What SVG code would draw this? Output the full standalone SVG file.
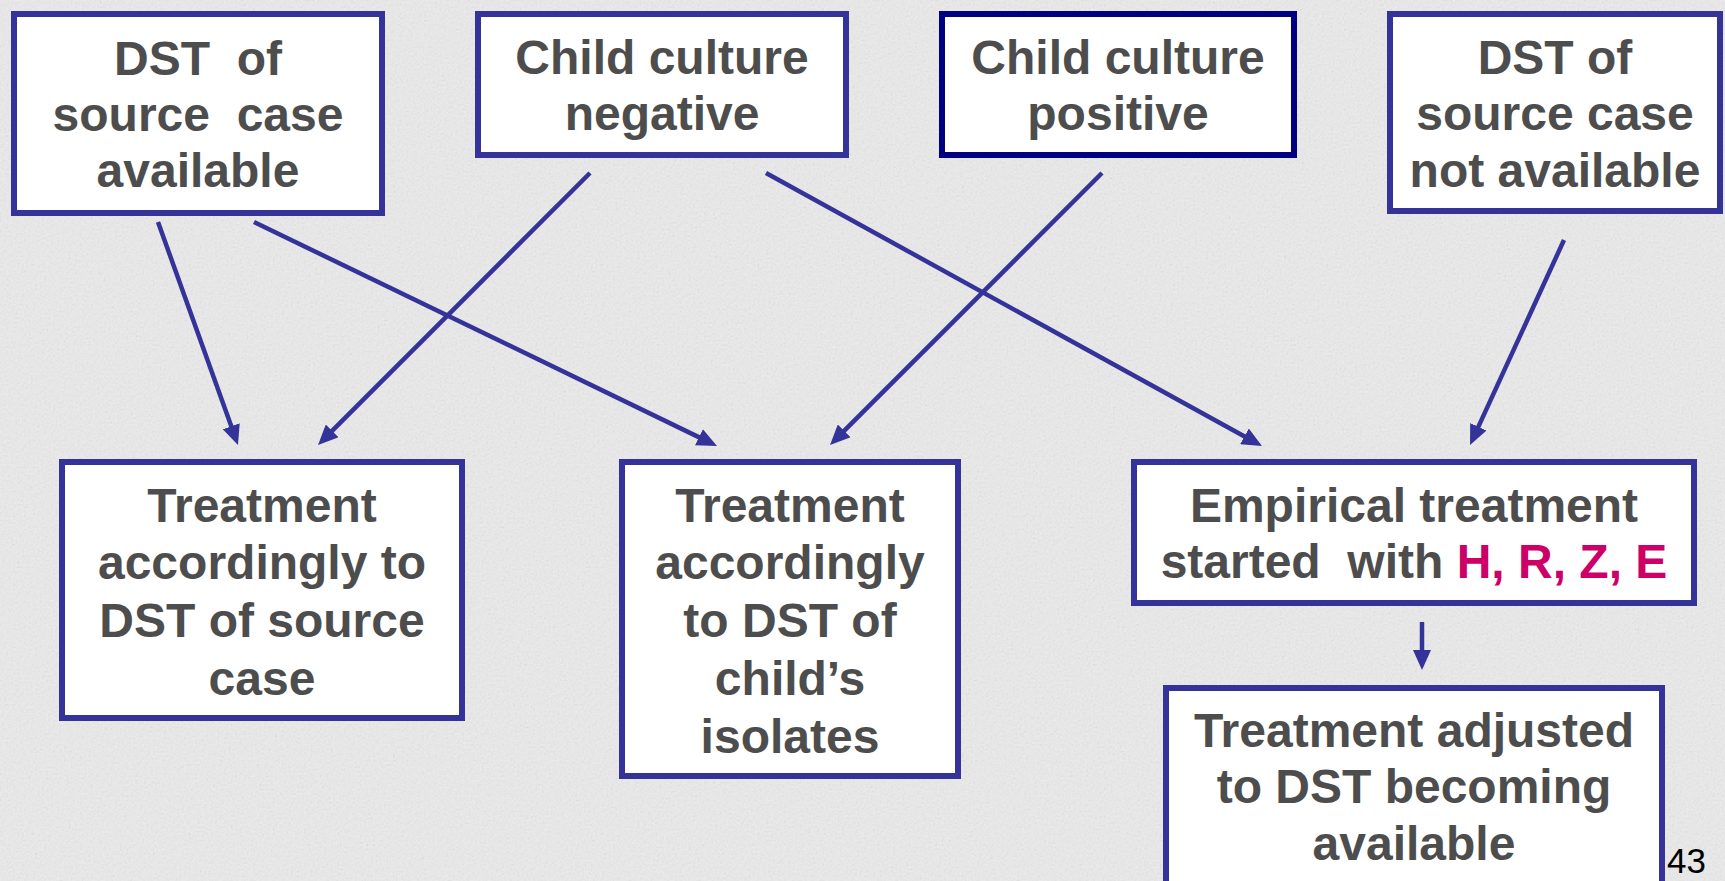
<svg xmlns="http://www.w3.org/2000/svg" width="1725" height="881" viewBox="0 0 1725 881">
  <style>
    .box { fill: #ffffff; stroke: #333399; stroke-width: 6; }
    .box.dark { stroke: #000080; }
    .lbl { font-family: "Liberation Sans", Arial, sans-serif; font-weight: bold; font-size: 48px; fill: #4d4d4d; text-anchor: middle; }
    .hl { fill: #cc0066; }
    .conn { stroke: #333399; stroke-width: 4.5; fill: none; marker-end: url(#arrow); }
    .page { font-family: "Liberation Sans", Arial, sans-serif; font-size: 35px; fill: #000000; }
  </style>
  <defs>
    <marker id="arrow" markerUnits="userSpaceOnUse" markerWidth="20" markerHeight="18" refX="10" refY="9" orient="auto">
      <path d="M0,0 L20,9 L0,18 Z" fill="#333399"/>
    </marker>
    <filter id="grain" x="0" y="0" width="100%" height="100%">
      <feTurbulence type="fractalNoise" baseFrequency="0.45" numOctaves="2" seed="7"/>
      <feColorMatrix type="saturate" values="0"/>
    </filter>
  </defs>

  <g id="background">
    <rect x="0" y="0" width="1725" height="881" fill="#ebebeb"/>
    <rect x="0" y="0" width="1725" height="881" filter="url(#grain)" opacity="0.2"/>
  </g>

  <g id="connectors">
    <line class="conn" x1="158" y1="222" x2="234.6" y2="435.6"/>
    <line class="conn" x1="254" y1="222" x2="708" y2="441.6"/>
    <line class="conn" x1="590" y1="173" x2="325.1" y2="437.9"/>
    <line class="conn" x1="766" y1="173" x2="1253.2" y2="441.2"/>
    <line class="conn" x1="1102" y1="173" x2="837.1" y2="437.9"/>
    <line class="conn" x1="1564" y1="240" x2="1474.2" y2="435.9"/>
    <line class="conn" x1="1422" y1="622" x2="1422" y2="660"/>
  </g>

  <g id="dst-available">
    <rect class="box" x="14" y="14" width="368" height="199"/>
    <text class="lbl" xml:space="preserve"><tspan x="198" y="75">DST  of</tspan><tspan x="198" y="131">source  case</tspan><tspan x="198" y="187">available</tspan></text>
  </g>

  <g id="culture-negative">
    <rect class="box" x="478" y="14" width="368" height="141"/>
    <text class="lbl"><tspan x="662" y="74">Child culture</tspan><tspan x="662" y="130">negative</tspan></text>
  </g>

  <g id="culture-positive">
    <rect class="box dark" x="942" y="14" width="352" height="141"/>
    <text class="lbl"><tspan x="1118" y="74">Child culture</tspan><tspan x="1118" y="130">positive</tspan></text>
  </g>

  <g id="dst-not-available">
    <rect class="box" x="1390" y="14" width="330" height="197"/>
    <text class="lbl"><tspan x="1555" y="74">DST of</tspan><tspan x="1555" y="130">source case</tspan><tspan x="1555" y="187">not available</tspan></text>
  </g>

  <g id="treat-source">
    <rect class="box" x="62" y="462" width="400" height="256"/>
    <text class="lbl"><tspan x="262" y="522">Treatment</tspan><tspan x="262" y="579">accordingly to</tspan><tspan x="262" y="637">DST of source</tspan><tspan x="262" y="695">case</tspan></text>
  </g>

  <g id="treat-child">
    <rect class="box" x="622" y="462" width="336" height="314"/>
    <text class="lbl"><tspan x="790" y="522">Treatment</tspan><tspan x="790" y="579">accordingly</tspan><tspan x="790" y="637">to DST of</tspan><tspan x="790" y="695">child’s</tspan><tspan x="790" y="753">isolates</tspan></text>
  </g>

  <g id="empirical">
    <rect class="box" x="1134" y="462" width="560" height="141"/>
    <text class="lbl" xml:space="preserve"><tspan x="1414" y="522">Empirical treatment</tspan><tspan x="1414" y="578">started  with <tspan class="hl">H, R, Z, E</tspan></tspan></text>
  </g>

  <g id="adjusted">
    <rect class="box" x="1166" y="688" width="496" height="200"/>
    <text class="lbl"><tspan x="1414" y="747">Treatment adjusted</tspan><tspan x="1414" y="803">to DST becoming</tspan><tspan x="1414" y="860">available</tspan></text>
  </g>

  <text class="page" x="1667" y="873">43</text>
</svg>
